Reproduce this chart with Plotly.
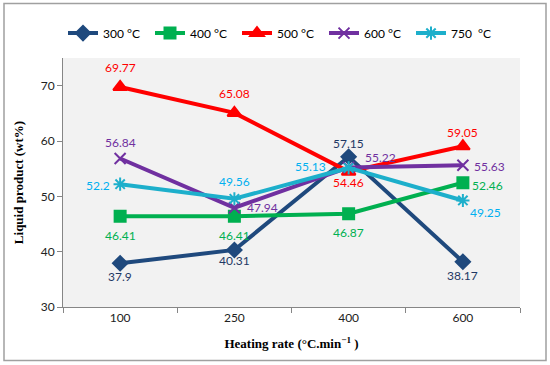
import plotly.graph_objects as go

categories = ["100", "250", "400", "600"]
s300 = [37.9, 40.31, 57.15, 38.17]
s400 = [46.41, 46.41, 46.87, 52.46]
s500 = [69.77, 65.08, 54.46, 59.05]
s600 = [56.84, 47.94, 55.22, 55.63]
s750 = [52.2, 49.56, 55.13, 49.25]
names = ["300 °C", "400 °C", "500 °C", "600 °C", "750  °C"]

# style: colours, markers and label offsets (px: dx right, dy down)
series = [
    dict(name=names[0], y=s300, color="#1F497D", tcolor="#1F3864", symbol="diamond", size=11,
         off=[(0, 13), (0, 11), (0, -13), (0, 14)]),
    dict(name=names[1], y=s400, color="#00B050", tcolor="#00B050", symbol="square", size=11,
         off=[(0, 19), (0, 19), (0, 19), (25, 3)]),
    dict(name=names[2], y=s500, color="#FF0000", tcolor="#FF0000", symbol="triangle-up", size=12,
         off=[(0, -19), (0, -19), (0, 11), (0, -14)]),
    dict(name=names[3], y=s600, color="#7030A0", tcolor="#7030A0", symbol="x-thin-open", size=11,
         off=[(0, -16), (28, 0), (32, -10), (27, 1)]),
    dict(name=names[4], y=s750, color="#1DAFCB", tcolor="#00B0F0", symbol="asterisk-open", size=11,
         off=[(-22, 1), (0, -17), (-38, -1), (23, 12)]),
]

fig = go.Figure()
annotations = []
for s in series:
    fig.add_trace(go.Scatter(
        x=categories, y=s["y"], name=s["name"], mode="lines+markers",
        line=dict(color=s["color"], width=4),
        marker=dict(symbol=s["symbol"], size=s["size"], color=s["color"],
                    line=dict(color=s["color"], width=2)),
        cliponaxis=False,
    ))
    for i, (v, (dx, dy)) in enumerate(zip(s["y"], s["off"])):
        annotations.append(dict(
            x=i, y=v, xref="x", yref="y", text=str(v), showarrow=False,
            xshift=dx, yshift=-dy, xanchor="center", yanchor="middle",
            font=dict(color=s["tcolor"], size=12, family="Lato, Open Sans, sans-serif"),
        ))

fig.update_layout(
    width=550, height=365,
    margin=dict(l=63, r=30, t=58, b=58, autoexpand=False),
    paper_bgcolor="white", plot_bgcolor="#F2F2F2",
    font=dict(family="Lato, Open Sans, sans-serif", size=12, color="#222222"),
    legend=dict(orientation="h", x=0.0, xanchor="left", y=1.1, yanchor="middle",
                font=dict(size=12, color="#000000"), itemwidth=30, tracegroupgap=0,
                entrywidth=42, entrywidthmode="pixels",
                bgcolor="rgba(0,0,0,0)"),
    showlegend=True,
    annotations=annotations,
    xaxis=dict(type="category", range=[-0.5, 3.5], showgrid=False, showline=True,
               linecolor="#868686", linewidth=1, ticks="outside", tickson="boundaries",
               ticklen=5, tickcolor="#868686", zeroline=False,
               title=dict(text="Heating rate (°C.min<sup>−1</sup> )", standoff=14,
                          font=dict(family="Liberation Serif, Times New Roman, serif", size=13,
                                    color="#000000", weight="bold"))),
    yaxis=dict(range=[30, 75], tickvals=[30, 40, 50, 60, 70], showgrid=False, showline=True,
               linecolor="#868686", linewidth=1, ticks="outside", ticklen=5,
               tickcolor="#868686", zeroline=False,
               title=dict(text="Liquid product (wt%)", standoff=14,
                          font=dict(family="Liberation Serif, Times New Roman, serif", size=13,
                                    color="#000000", weight="bold"))),
)

fig.add_shape(type="rect", xref="paper", yref="paper",
              x0=(4 - 63) / 457, x1=(546 - 63) / 457,
              y0=(307 - 360.5) / 249, y1=(307 - 3.5) / 249,
              line=dict(color="#A0A0A0", width=1.5), fillcolor="rgba(0,0,0,0)", layer="below")

fig.write_html("out.html", config={"displayModeBar": False},
               post_script="document.body.style.margin='0';")
